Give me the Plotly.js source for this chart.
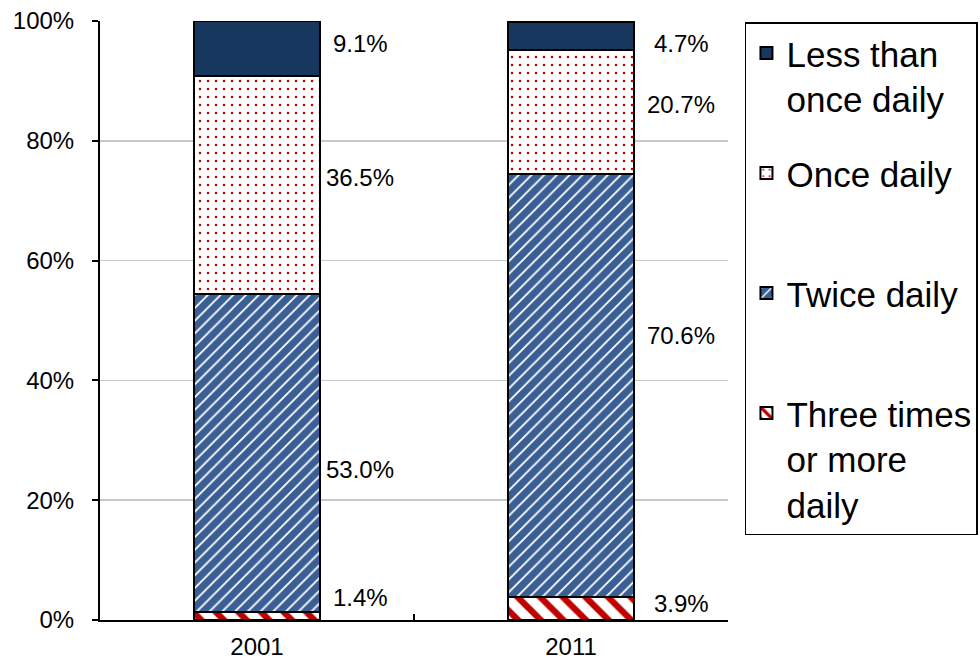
<!DOCTYPE html>
<html>
<head>
<meta charset="utf-8">
<script src="https://cdn.plot.ly/plotly-3.0.1.min.js"></script>
<style>html,body{margin:0;padding:0;background:#fff}#chart{width:980px;height:667px}</style>
</head>
<body>
<div id="chart"></div>
<script>
// ---- data ----
const years = ['2001', '2011'];
const threeTimes = [1.4, 3.9];
const twice = [53.0, 70.6];
const once = [36.5, 20.7];
const lessThanOnce = [9.1, 4.7];
const seriesNames = ['Three times<br>or more<br>daily', 'Twice daily<br> ', 'Once daily<br> ', 'Less than<br>once daily'];
const seriesValues = [threeTimes, twice, once, lessThanOnce];

// ---- styles ----
const FONT = 'Liberation Sans, Arial, sans-serif';
const styles = [
  {color: '#ffffff', pattern: {shape: '\\', fgcolor: '#C00000', bgcolor: '#ffffff', size: 16, solidity: 0.4, fillmode: 'replace'}},
  {color: '#3A5F94', pattern: {shape: '/', fgcolor: '#ffffff', bgcolor: '#3A5F94', size: 9, solidity: 0.2, fillmode: 'replace'}},
  {color: '#ffffff', pattern: {shape: '.', fgcolor: '#C00000', bgcolor: '#ffffff', size: 8, solidity: 0.08, fillmode: 'replace'}},
  {color: '#17375E'}
];
const legendRanks = [4, 3, 2, 1];
// label pixel nudges [series][year] and per-year horizontal offset
const labelNudge = [[18, 5], [-17, 50], [7, 7], [5, -8]];
const labelXShift = [103, 110];

const traces = seriesValues.map((vals, i) => ({
  type: 'bar',
  x: years,
  y: vals,
  name: seriesNames[i],
  legendgroup: 'g' + i,
  legendrank: legendRanks[i],
  marker: Object.assign({line: {color: '#000000', width: 2}}, styles[i]),
  hoverinfo: 'none'
}));

const annotations = [];
const cum = years.map(() => 0);
seriesValues.forEach((vals, i) => {
  vals.forEach((v, j) => {
    annotations.push({
      xref: 'x', yref: 'y', x: j, y: cum[j] + v / 2,
      text: v.toFixed(1) + '%', showarrow: false,
      xanchor: 'center', yanchor: 'middle',
      xshift: labelXShift[j], yshift: labelNudge[i][j],
      font: {family: FONT, size: 24, color: '#000000'}
    });
    cum[j] += v;
  });
});

const layout = {
  width: 980, height: 667,
  margin: {l: 100, r: 252, t: 21, b: 47, autoexpand: false},
  paper_bgcolor: '#ffffff', plot_bgcolor: '#ffffff',
  barmode: 'stack', bargap: 0.6,
  font: {family: FONT, size: 24, color: '#000000'},
  xaxis: {
    type: 'category', tickson: 'boundaries', ticks: 'inside', ticklen: 6, tickwidth: 2,
    tickcolor: '#000000', showline: true, linecolor: '#000000', linewidth: 2,
    showgrid: false, tickfont: {family: FONT, size: 24}, ticklabelstandoff: 4
  },
  yaxis: {
    range: [0, 100], dtick: 20, ticksuffix: '%', ticks: 'outside', ticklen: 6, tickwidth: 2,
    tickcolor: '#000000', showline: true, linecolor: '#000000', linewidth: 2,
    gridcolor: '#C8C8C8', gridwidth: 1.5, zeroline: false,
    tickfont: {family: FONT, size: 24}, ticklabelstandoff: 13
  },
  showlegend: true,
  legend: {
    x: 1.027, y: 0.998, xanchor: 'left', yanchor: 'top',
    traceorder: 'grouped', tracegroupgap: 26, valign: 'top',
    bordercolor: '#000000', borderwidth: 1.5, bgcolor: 'rgba(255,255,255,0)',
    font: {family: FONT, size: 35, color: '#000000'}
  },
  annotations: annotations
};

Plotly.newPlot('chart', traces, layout, {displayModeBar: false, staticPlot: true});
</script>
</body>
</html>
